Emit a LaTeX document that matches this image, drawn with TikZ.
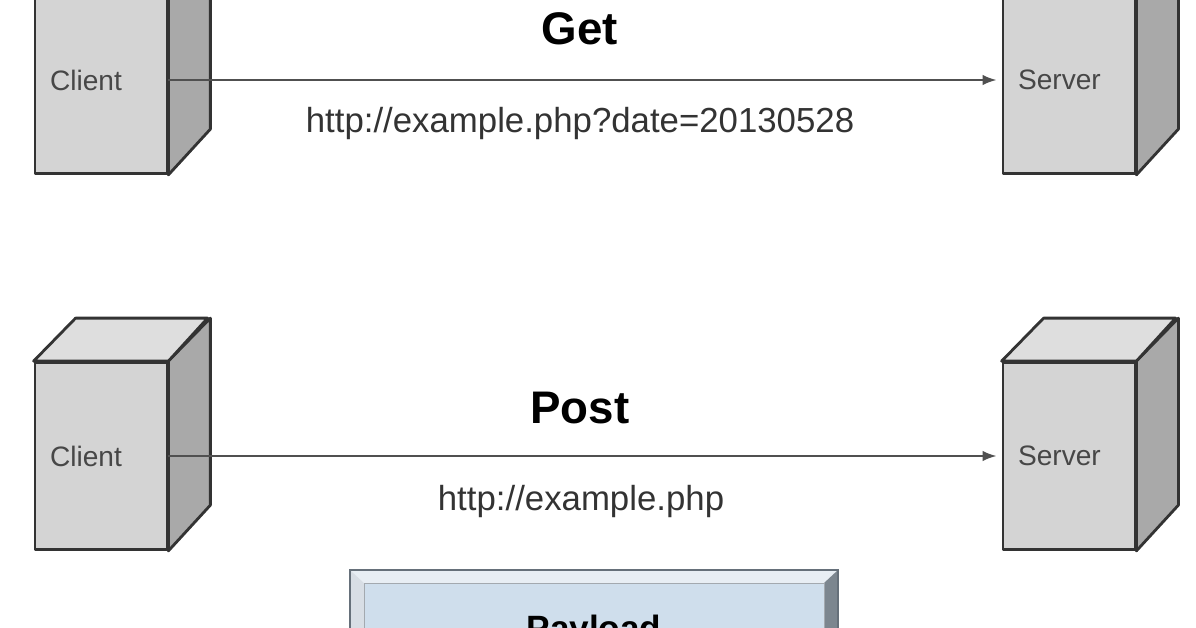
\documentclass[tikz,border=0pt]{standalone}
\usepackage{fontspec}
\setmainfont{Liberation Sans}
\usetikzlibrary{arrows.meta}
\definecolor{frontgray}{HTML}{D4D4D4}
\definecolor{sidegray}{HTML}{A9A9A9}
\definecolor{topgray}{HTML}{DEDEDE}
\definecolor{boxline}{HTML}{333333}
\definecolor{labelgray}{HTML}{474747}
\definecolor{wiregray}{HTML}{505050}
\definecolor{payloadblue}{HTML}{CFDEEC}
\definecolor{bevellight}{HTML}{E8EEF4}
\definecolor{beveldark}{HTML}{7C868F}
\definecolor{bevelline}{HTML}{66707A}
\begin{document}
\begin{tikzpicture}[x=0.02cm,y=-0.02cm,
            box/.style={draw=boxline,fill=frontgray,line width=1.6pt,line join=round,
              minimum height=3.74cm,text width=2.04cm,inner sep=0.3cm,align=left,
              text=labelgray,font=\fontsize{16}{18}\selectfont},
            face/.style={draw=boxline,line width=1.6pt,line join=round},
            wire/.style={draw=wiregray,line width=1.2pt,-{Latex[length=8pt,width=6pt]},shorten >=0.1cm},
            title/.style={anchor=base,font=\bfseries\fontsize{26}{30}\selectfont},
            url/.style={anchor=base,text=boxline,font=\fontsize{19.8}{22}\selectfont}]
            \useasboundingbox (0,0) rectangle (1196,628);
            \clip (0,0) rectangle (1196,628);
            % get request
            \node[box] (client1) at (101,80) {Client};
            \node[box] (server1) at (1069,80) {Server};
            % post request
            \node[box] (client2) at (101,456) {Client};
            \node[box] (server2) at (1069,456) {Server};
            \foreach \b in {client1,server1,client2,server2}{
              \draw[face,fill=sidegray] (\b.south east) -- (\b.north east) -- ++(42,-43) -- ++(0,187) -- cycle;
              \draw[face,fill=topgray] (\b.north west) -- ++(42,-43) -- ++(132,0) -- (\b.north east) -- cycle;
            }
            \draw[wire] (client1.east) -- (server1.west);
            \draw[wire] (client2.east) -- (server2.west);
            \node[title] (get) at (580,45) {Get};
            \node[url] (geturl) at (580,133) {http://example.php?date=20130528};
            \node[title] (post) at (580,423) {Post};
            \node[url] (posturl) at (581,510) {http://example.php};
            % payload
            \fill[bevellight] (350,570) -- (838,570) -- (824,583) -- (364,583) -- cycle;
            \fill[bevellight!85!beveldark] (350,570) -- (364,583) -- (364,700) -- (350,700) -- cycle;
            \fill[beveldark] (838,570) -- (838,700) -- (824,700) -- (824,583) -- cycle;
            \draw[fill=payloadblue,draw=bevelline!60] (364,583) rectangle (824,700);
            \draw[bevelline,line width=1.2pt] (350,700) -- (350,570) -- (838,570) -- (838,700);
            \node[anchor=base,font=\bfseries\fontsize{20}{24}\selectfont] (payload) at (594,640) {Payload};
        \end{tikzpicture}
\end{document}
